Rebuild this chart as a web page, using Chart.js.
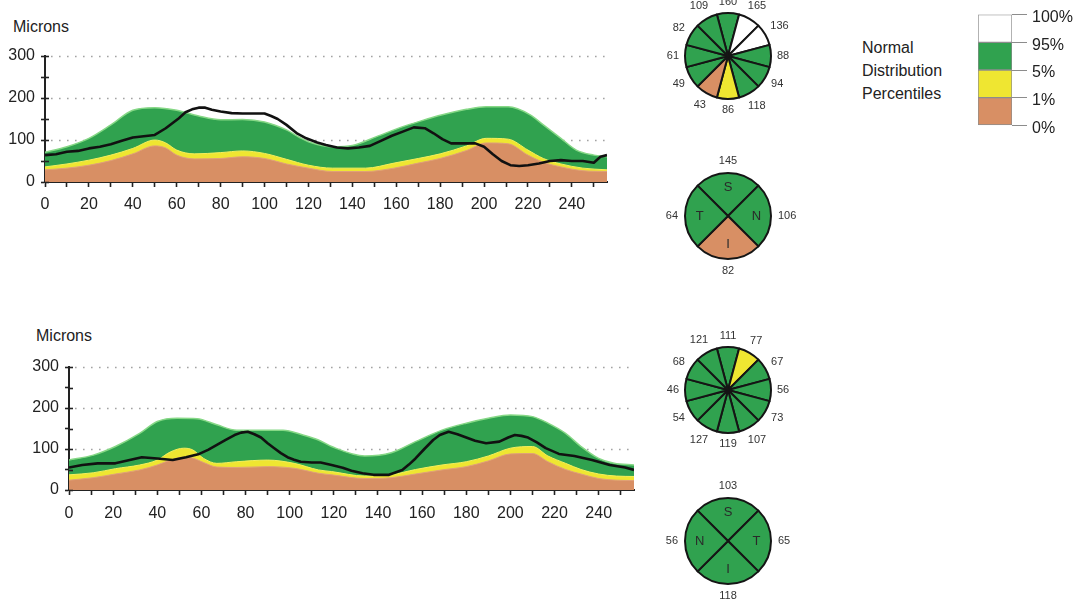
<!DOCTYPE html>
<html>
<head>
<meta charset="utf-8">
<script src="https://cdn.jsdelivr.net/npm/chart.js@4.4.1/dist/chart.umd.min.js"></script>
<style>
  html, body { margin: 0; padding: 0; background: #fff; width: 1082px; height: 604px; overflow: hidden;
    font-family: "Liberation Sans", Arial, sans-serif; color: #222; }
  canvas { position: absolute; display: block; }
  .txt { position: absolute; font-size: 16px; line-height: 18px; white-space: nowrap; }
  .legend-txt { position: absolute; left: 862px; top: 36px; font-size: 16px; line-height: 23px; }
</style>
</head>
<body>
<div class="txt" style="left:13px;top:18px">Microns</div>
<canvas id="tsnitOD" width="640" height="190" style="left:0;top:30px"></canvas>

<div class="txt" style="left:36px;top:327px">Microns</div>
<canvas id="tsnitOS" width="660" height="190" style="left:0;top:340px"></canvas>

<canvas id="clockOD" width="180" height="140" style="left:638px;top:-14px"></canvas>
<canvas id="quadOD" width="180" height="140" style="left:638px;top:146px"></canvas>
<canvas id="clockOS" width="180" height="140" style="left:638px;top:320px"></canvas>
<canvas id="quadOS" width="180" height="140" style="left:638px;top:471px"></canvas>

<div class="legend-txt">Normal<br>Distribution<br>Percentiles</div>
<canvas id="pctLegend" width="142" height="140" style="left:940px;top:0"></canvas>

<script>
// ---- Upper TSNIT profile: normal percentile limits and measured RNFL thickness (microns) ----
const odP95X = [0,10,20,30,40,50,60,70,80,90,100,110,116,120,131,140,151,162,171,181,192,201,211,221,227,235,242,250,256];
const odP95  = [71,84,104,136,171,177,171,157,148,149,143,124,106,96,84,87,108,130,145,160,173,179,179,160,136,104,76,64,60];

const odBandX = [0,10,20,30,40,50,55,60,68,80,90,100,110,120,131,146,159,170,180,192,201,211,220,227,235,245,256];
const odP5    = [36,43,52,64,80,100,93,76,67,70,74,68,54,40,33,33,45,56,67,86,104,102,76,56,43,33,29];
const odP1    = [29,33,40,51,67,86,81,64,55,56,60,56,43,33,25,25,33,45,56,75,93,91,64,47,36,27,25];

const odThickX = [0,5,10,15,20,25,30,35,40,45,50,55,58,61,64,67,70,73,76,80,85,90,95,100,103,106,110,115,119,124,
                  128,133,138,143,148,153,158,163,168,173,177,181,185,190,196,200,204,208,212,216,220,225,230,235,240,245,250,253,256];
const odThick  = [64,66,72,74,80,84,90,98,106,109,112,128,140,152,166,173,177,177,172,168,164,163,163,163,157,150,136,115,104,94,
                  88,82,80,82,86,98,110,120,130,128,116,102,92,92,92,84,66,50,40,38,40,44,50,52,50,50,46,60,64];

// ---- Lower TSNIT profile ----
const osP95X = [0,11,21,32,40,49,58,67,76,86,97,106,113,119,134,146,157,169,180,190,200,210,217,225,232,240,247,256];
const osP95  = [73,85,106,138,167,175,174,159,146,146,146,134,122,106,83,91,118,146,163,175,183,179,163,138,106,77,65,61];

const osBandX = [0,11,21,32,40,46,52,56,61,67,76,90,102,113,119,134,146,157,169,180,190,200,210,217,225,232,240,248,256];
const osP5    = [37,42,52,61,73,93,102,98,77,65,69,73,65,49,45,34,37,50,61,69,83,102,106,83,65,50,39,34,33];
const osP1    = [24,30,39,49,61,73,80,78,67,56,55,57,53,41,37,28,30,39,49,57,71,88,89,69,50,39,28,24,23];

const osThickX = [0,6,13,21,29,33,40,47,53,59,63,67,71,75,78,81,84,87,90,93,96,99,102,105,110,114,119,124,128,133,
                  138,145,151,154,157,161,165,168,172,176,180,184,189,195,199,202,205,208,212,216,222,229,237,245,252,256];
const osThick  = [55,61,65,65,75,80,77,73,80,88,98,110,122,134,140,142,136,128,114,102,90,80,74,69,67,67,61,54,47,41,
                  37,37,49,62,77,100,122,134,142,136,128,120,114,118,128,134,132,128,116,102,88,83,73,61,55,49];

// ---- Clock-hour and quadrant averages (12 o'clock first, clockwise) ----
const odClock      = [160,165,136,88,94,118,86,43,49,61,82,109];
const odClockClass = ['g','w','w','g','g','g','y','s','g','g','g','g'];
const odQuad       = [145,106,82,64];
const odQuadNames  = ['S','N','I','T'];
const odQuadClass  = ['g','g','s','g'];

const osClock      = [111,77,67,56,73,107,119,127,54,46,68,121];
const osClockClass = ['g','y','g','g','g','g','g','g','g','g','g','g'];
const osQuad       = [103,65,118,56];
const osQuadNames  = ['S','T','I','N'];
const osQuadClass  = ['g','g','g','g'];

// ---- Percentile legend ----
const pctTicks   = ['0%','1%','5%','95%','100%'];
const pctClasses = ['s','y','g','w'];

const yTickValues = [0,50,100,150,200,250,300];
const gridValues  = [100,200,300];

const FONT = '"Liberation Sans", Arial, sans-serif';
const CLASS_COLOR = { w: '#ffffff', g: '#30a24f', y: '#efe631', s: '#d88f64' };
const INK = '#222';

const pts = (xs, ys) => xs.map((x, i) => ({ x, y: ys[i] }));

// dotted reference lines behind the bands
const dottedGrid = {
  id: 'dottedGrid',
  beforeDatasetsDraw(chart) {
    const { ctx, chartArea: a, scales: { y } } = chart;
    ctx.save();
    ctx.strokeStyle = '#a3a3a3';
    ctx.lineWidth = 1.6;
    ctx.setLineDash([1.6, 6.4]);
    gridValues.forEach(v => {
      const py = Math.round(y.getPixelForValue(v)) + 0.5;
      ctx.beginPath();
      ctx.moveTo(a.left + 6, py);
      ctx.lineTo(a.right, py);
      ctx.stroke();
    });
    ctx.restore();
  }
};

// y ticks cross the axis: add the short stub on the inner side
const tickCross = {
  id: 'tickCross',
  afterDraw(chart) {
    const { ctx, chartArea: a, scales: { y } } = chart;
    ctx.save();
    ctx.strokeStyle = INK;
    ctx.lineWidth = 1.6;
    y.ticks.forEach(t => {
      const py = Math.round(y.getPixelForValue(t.value)) + 0.5;
      ctx.beginPath();
      ctx.moveTo(a.left, py);
      ctx.lineTo(a.left + 4, py);
      ctx.stroke();
    });
    ctx.restore();
  }
};

function tsnitChart(id, d) {
  const band = { fill: 'origin', pointRadius: 0, cubicInterpolationMode: 'monotone' };
  return new Chart(document.getElementById(id), {
    type: 'line',
    data: {
      datasets: [
        { ...band, label: '1%', data: pts(d.bandX, d.p1), backgroundColor: CLASS_COLOR.s,
          borderColor: '#e0a07a', borderWidth: 1, order: 1 },
        { ...band, label: '5%', data: pts(d.bandX, d.p5), backgroundColor: CLASS_COLOR.y,
          borderColor: '#f4ee5c', borderWidth: 1, order: 2 },
        { ...band, label: '95%', data: pts(d.p95X, d.p95), backgroundColor: CLASS_COLOR.g,
          borderColor: '#86d886', borderWidth: 1.5, order: 3 },
        { label: 'RNFL', data: pts(d.thickX, d.thick), fill: false, borderColor: '#111',
          borderWidth: 2.6, pointRadius: 0, tension: 0, borderJoinStyle: 'round', order: 0 }
      ]
    },
    options: {
      responsive: false, animation: false, events: [],
      layout: { padding: { left: 0, right: d.padR, top: d.padT, bottom: 0 } },
      plugins: { legend: { display: false }, tooltip: { enabled: false } },
      scales: {
        x: {
          type: 'linear', min: 0, max: 256, z: 1,
          afterFit: s => { s.height = d.xH; },
          ticks: { stepSize: 10, includeBounds: false, autoSkip: false, maxRotation: 0, padding: d.xPad,
                   color: INK, font: { family: FONT, size: 16 },
                   callback: v => (v % 20 === 0 ? String(v) : '') },
          grid: { drawOnChartArea: false, drawTicks: true, tickLength: 5, tickColor: INK, tickWidth: 1.6 },
          border: { color: INK, width: 2 }
        },
        y: {
          min: 0, max: 300, z: 1,
          afterFit: s => { s.width = d.yW; },
          afterBuildTicks: s => { s.ticks = yTickValues.map(v => ({ value: v })); },
          ticks: { autoSkip: false, padding: 6, color: INK, font: { family: FONT, size: 16 },
                   callback: v => (v % 100 === 0 ? String(v) : '') },
          grid: { drawOnChartArea: false, drawTicks: true, tickLength: 4, tickColor: INK, tickWidth: 1.6 },
          border: { color: INK, width: 2 }
        }
      }
    },
    plugins: [dottedGrid, tickCross]
  });
}

tsnitChart('tsnitOD', { p95X: odP95X, p95: odP95, bandX: odBandX, p5: odP5, p1: odP1,
  thickX: odThickX, thick: odThick, yW: 45, xH: 38, padR: 33, padT: 26, xPad: 8 });
tsnitChart('tsnitOS', { p95X: osP95X, p95: osP95, bandX: osBandX, p5: osP5, p1: osP1,
  thickX: osThickX, thick: osThick, yW: 69, xH: 40, padR: 26, padT: 27, xPad: 9 });

// values around the disc, and sector letters inside
const sectorText = {
  id: 'sectorText',
  afterDraw(chart, args, opts) {
    const { ctx } = chart;
    const arcs = chart.getDatasetMeta(0).data;
    ctx.save();
    ctx.textAlign = 'center';
    ctx.textBaseline = 'middle';
    arcs.forEach((arc, i) => {
      const p = arc.getProps(['x', 'y', 'startAngle', 'endAngle', 'outerRadius'], true);
      const mid = (p.startAngle + p.endAngle) / 2;
      const c = Math.cos(mid), s = Math.sin(mid);
      const text = String(chart.data.labels[i]);
      ctx.font = '11px ' + FONT;
      ctx.fillStyle = '#333';
      const hw = ctx.measureText(text).width / 2, hh = 5;
      const r = p.outerRadius + opts.gap + hw * Math.abs(c) + hh * Math.abs(s);
      ctx.fillText(text, p.x + c * r, p.y + s * r);
      if (opts.names) {
        ctx.font = '13px ' + FONT;
        ctx.fillStyle = '#2a2a2a';
        const ri = p.outerRadius * 0.66;
        ctx.fillText(opts.names[i], p.x + c * ri, p.y + s * ri);
      }
    });
    ctx.restore();
  }
};

function discChart(id, values, classes, names, gap) {
  const n = values.length;
  return new Chart(document.getElementById(id), {
    type: 'pie',
    data: {
      labels: values.map(String),
      datasets: [{
        data: values.map(() => 1),
        backgroundColor: classes.map(k => CLASS_COLOR[k]),
        borderColor: '#151515', borderWidth: 2, borderJoinStyle: 'round'
      }]
    },
    options: {
      responsive: false, animation: false, events: [],
      rotation: -180 / n,
      layout: { padding: { left: 46, right: 46, top: 26, bottom: 26 } },
      plugins: { legend: { display: false }, tooltip: { enabled: false },
                 sectorText: { gap: gap, names: names } }
    },
    plugins: [sectorText]
  });
}

discChart('clockOD', odClock, odClockClass, null, 6);
discChart('quadOD', odQuad, odQuadClass, odQuadNames, 7);
discChart('clockOS', osClock, osClockClass, null, 6);
discChart('quadOS', osQuad, osQuadClass, osQuadNames, 7);

// percentile colour key
new Chart(document.getElementById('pctLegend'), {
  type: 'bar',
  data: {
    labels: [''],
    datasets: pctClasses.map(k => ({
      data: [1], backgroundColor: CLASS_COLOR[k], borderColor: '#8c8c8c', borderWidth: 1,
      borderSkipped: false, barPercentage: 1, categoryPercentage: 1
    }))
  },
  options: {
    responsive: false, animation: false, events: [],
    layout: { padding: { left: 38, right: 0, top: 10, bottom: 14 } },
    plugins: { legend: { display: false }, tooltip: { enabled: false } },
    scales: {
      x: { display: false, stacked: true },
      y: {
        stacked: true, position: 'right', min: 0, max: 4,
        afterFit: s => { s.width = 70; },
        ticks: { stepSize: 1, autoSkip: false, padding: 5, labelOffset: 3, color: INK,
                 font: { family: FONT, size: 16 }, callback: v => pctTicks[v] },
        grid: { drawOnChartArea: false, tickLength: 15, tickColor: '#8c8c8c', tickWidth: 1 },
        border: { display: false }
      }
    }
  }
});
</script>
</body>
</html>
